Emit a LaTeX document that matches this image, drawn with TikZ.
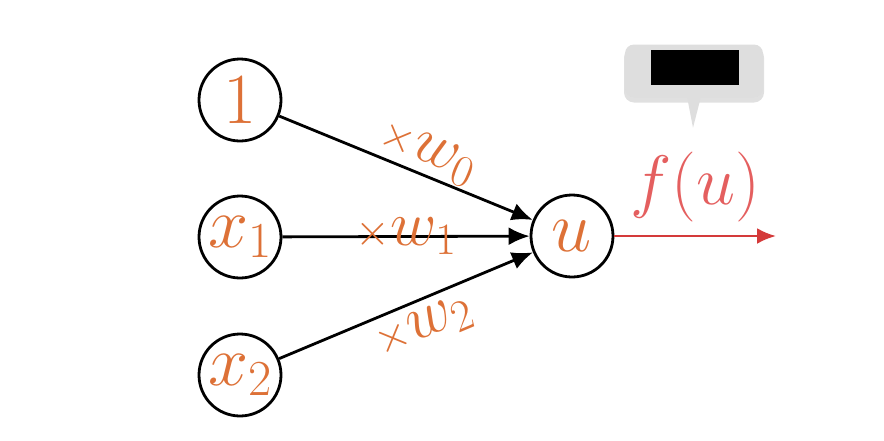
\documentclass[tikz,border=0pt]{standalone}
\usepackage{fix-cm}
\usetikzlibrary{arrows.meta}
\definecolor{wcol}{RGB}{221,113,55}
\definecolor{outcol}{RGB}{212,58,58}
\definecolor{fcol}{RGB}{228,95,95}
\definecolor{notecol}{RGB}{222,222,222}
\begin{document}
\begin{tikzpicture}[x=1pt,y=-1pt,
    unit/.style={draw=black,line width=2.8pt,shape=circle,minimum size=82pt,inner sep=0pt,
      text=wcol,font=\fontsize{72}{80}\selectfont},
    wt/.style={text=wcol,font=\fontsize{64}{70}\selectfont,sloped,inner sep=2pt},
    link/.style={line width=2.8pt,-{Latex[length=21pt,width=18pt]}}]
      \useasboundingbox (0,0) rectangle (884,440);
      % inputs and sum
      \node[unit] (X0) at (240,100) {$1$};
      \node[unit] (X1) at (240,237) {$x_1$};
      \node[unit] (X2) at (240,375) {$x_2$};
      \node[unit] (U) at (572,236) {$u$};
      \draw[link] (X0) -- (U) node[wt,pos=0.55,above] {${\scriptstyle\times}w_0$};
      \draw[link] (X1) -- (U) node[wt,pos=0.5] {${\scriptstyle\times}w_1$};
      \draw[link] (X2) -- (U) node[wt,pos=0.53,below=6pt] {${\scriptstyle\times}w_2$};
      % output
      \coordinate (Out) at (776,236);
      \draw[line width=2.8pt,outcol,-{Latex[length=19pt,width=16pt]}] (U) -- (Out)
        node[midway,above=9pt,text=fcol,font=\fontsize{70}{78}\selectfont] {$f(u)$};
      % callout
      \node[fill=black!40,opacity=.3,rounded corners=10pt,minimum width=140pt,minimum height=55pt]
        (shade) at (694,75) {};
      \node[fill=notecol,rounded corners=9pt,minimum width=138pt,minimum height=53pt]
        (note) at (694,71) {};
      \fill[notecol] ([xshift=-7pt,yshift=1pt]note.south) -- ([xshift=7pt,yshift=1pt]note.south)
        -- ([xshift=-1pt,yshift=-30pt]note.south) -- cycle;
      \node[fill=black,minimum width=88pt,minimum height=35pt,inner sep=0pt] (hide) at (695,67.5) {};
    \end{tikzpicture}
\end{document}
